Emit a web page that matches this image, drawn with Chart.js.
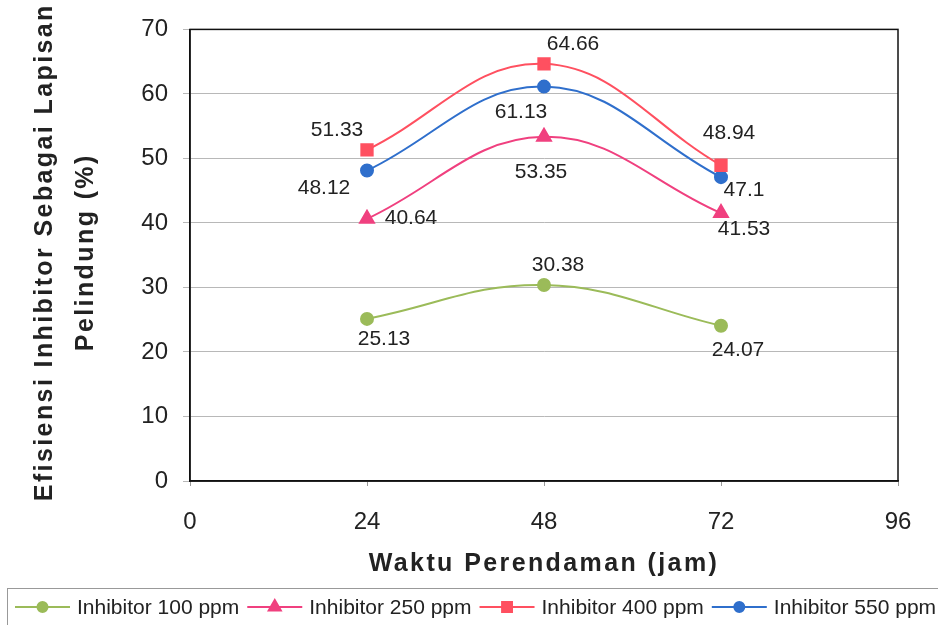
<!DOCTYPE html>
<html>
<head>
<meta charset="utf-8">
<script src="https://cdn.jsdelivr.net/npm/chart.js@4.4.1/dist/chart.umd.min.js"></script>
<style>
html,body{margin:0;padding:0;background:#fff;}
#wrap{width:938px;height:625px;}
</style>
</head>
<body>
<div id="wrap"><canvas id="c" width="938" height="625"></canvas></div>
<script>
// ---- data ----
const HOURS = [24, 48, 72];
const SERIES_NAMES = ['Inhibitor 100 ppm', 'Inhibitor 250 ppm', 'Inhibitor 400 ppm', 'Inhibitor 550 ppm'];
const VALUES_100 = [25.13, 30.38, 24.07];
const VALUES_250 = [40.64, 53.35, 41.53];
const VALUES_400 = [51.33, 64.66, 48.94];
const VALUES_550 = [48.12, 61.13, 47.1];
const X_TICKS = [0, 24, 48, 72, 96];
const Y_TICKS = [0, 10, 20, 30, 40, 50, 60, 70];
const X_TITLE = 'Waktu Perendaman (jam)';
const Y_TITLE = ['Efisiensi Inhibitor Sebagai Lapisan', 'Pelindung (%)'];

// ---- styles ----
const COLORS = ['#9BBB59', '#F0407F', '#FF5060', '#2F6FCC'];
const MARKERS = ['circle', 'triangle', 'rect', 'circle'];
const MARKER_R = [6, 8, 8, 6];
// label offsets (dx, dy) in pixels from each point, per series
const LABEL_OFFSETS = [
  [[17, 20], [14, -20], [17, 24]],
  [[44, -1], [-3, 35], [23, 16]],
  [[-30, -20], [29, -20], [8, -32]],
  [[-43, 18], [-23, 26], [23, 13]]
];
const FONT = '"Liberation Sans", Arial, sans-serif';

const allValues = [VALUES_100, VALUES_250, VALUES_400, VALUES_550];
const datasets = allValues.map((vals, i) => ({
  label: SERIES_NAMES[i],
  data: HOURS.map((h, j) => ({x: h, y: vals[j]})),
  borderColor: COLORS[i],
  backgroundColor: COLORS[i],
  pointBackgroundColor: COLORS[i],
  pointBorderColor: COLORS[i],
  pointStyle: MARKERS[i],
  pointRadius: MARKER_R[i],
  pointHoverRadius: MARKER_R[i],
  borderWidth: 2,
  tension: 0.4,
  fill: false
}));

const decorPlugin = {
  id: 'decor',
  beforeDatasetsDraw(chart) {
    const {ctx, chartArea: a} = chart;
    ctx.save();
    ctx.strokeStyle = '#111';
    ctx.lineWidth = 1.5;
    ctx.strokeRect(a.left, a.top, a.right - a.left, a.bottom - a.top);
    ctx.restore();
  },
  afterDraw(chart) {
    const {ctx, chartArea: a} = chart;
    // data labels
    ctx.save();
    ctx.font = '21px ' + FONT;
    ctx.fillStyle = '#222';
    ctx.textAlign = 'center';
    ctx.textBaseline = 'middle';
    chart.data.datasets.forEach((ds, i) => {
      const meta = chart.getDatasetMeta(i);
      meta.data.forEach((pt, j) => {
        const off = LABEL_OFFSETS[i][j];
        ctx.fillText(String(allValues[i][j]), pt.x + off[0], pt.y + off[1]);
      });
    });
    ctx.restore();

    // axis titles
    ctx.save();
    ctx.font = 'bold 25px ' + FONT;
    ctx.fillStyle = '#222';
    ctx.textAlign = 'center';
    ctx.textBaseline = 'middle';
    try { ctx.letterSpacing = '2.4px'; } catch (e) {}
    ctx.fillText(X_TITLE, (a.left + a.right) / 2, 564);
    const cy = (a.top + a.bottom) / 2 - 3;
    ctx.translate(45, cy);
    ctx.rotate(-Math.PI / 2);
    ctx.fillText(Y_TITLE[0], 0, 0);
    ctx.fillText(Y_TITLE[1], 0, 41);
    ctx.restore();

    // legend
    ctx.save();
    ctx.strokeStyle = '#999';
    ctx.lineWidth = 1;
    ctx.strokeRect(7.5, 588.5, 960, 60);
    ctx.font = '21px ' + FONT;
    ctx.textBaseline = 'middle';
    ctx.textAlign = 'left';
    let x = 15;
    const ly = 607;
    chart.data.datasets.forEach((ds, i) => {
      ctx.strokeStyle = ds.borderColor;
      ctx.lineWidth = 2;
      ctx.beginPath();
      ctx.moveTo(x, ly);
      ctx.lineTo(x + 55, ly);
      ctx.stroke();
      Chart.helpers.drawPoint(ctx, {
        pointStyle: ds.pointStyle,
        radius: ds.pointStyle === 'circle' ? 5 : 7,
        rotation: 0,
        borderWidth: 1
      }, x + 27.5, ly);
      ctx.fillStyle = ds.borderColor;
      ctx.fill();
      ctx.fillStyle = '#222';
      const tx = x + 62;
      ctx.fillText(ds.label, tx, ly + 1);
      x = tx + ctx.measureText(ds.label).width + 8;
    });
    ctx.restore();
  }
};

new Chart(document.getElementById('c'), {
  type: 'line',
  data: {datasets},
  options: {
    responsive: false,
    animation: false,
    events: [],
    layout: {padding: {top: 26, right: 40, left: 0, bottom: 0}},
    plugins: {legend: {display: false}, tooltip: {enabled: false}},
    scales: {
      x: {
        type: 'linear',
        min: 0, max: 96,
        afterBuildTicks(scale) { scale.ticks = X_TICKS.map(v => ({value: v})); },
        afterFit(scale) { scale.height = 144; },
        ticks: {
          color: '#222',
          font: {family: FONT, size: 24},
          padding: 22,
          maxRotation: 0,
          autoSkip: false
        },
        grid: {drawOnChartArea: false, drawTicks: true, tickLength: 5, color: '#999'},
        border: {display: true, color: '#111', width: 1.5}
      },
      y: {
        min: 0, max: 70,
        afterBuildTicks(scale) { scale.ticks = Y_TICKS.map(v => ({value: v})); },
        afterFit(scale) { scale.width = 190; },
        ticks: {
          color: '#222',
          font: {family: FONT, size: 24},
          padding: 15,
          autoSkip: false
        },
        grid: {color: '#b8b8b8', lineWidth: 1, tickLength: 7, drawTicks: true},
        border: {display: true, color: '#111', width: 1.5}
      }
    }
  },
  plugins: [decorPlugin]
});
</script>
</body>
</html>
